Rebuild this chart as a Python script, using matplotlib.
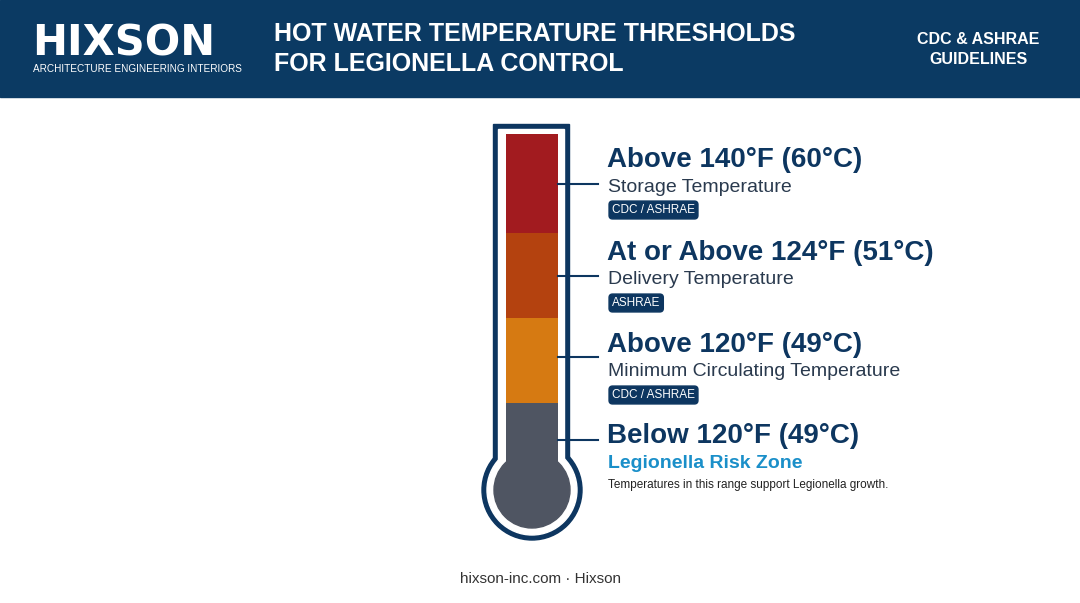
import matplotlib
matplotlib.use("Agg")
import matplotlib.pyplot as plt
from matplotlib.patches import Rectangle, Circle, FancyBboxPatch

headings = ["Above 140°F (60°C)", "At or Above 124°F (51°C)", "Above 120°F (49°C)", "Below 120°F (49°C)"]
subtitles = ["Storage Temperature", "Delivery Temperature", "Minimum Circulating Temperature", "Legionella Risk Zone"]
badges = ["CDC / ASHRAE", "ASHRAE", "CDC / ASHRAE", None]
colors = ["#a21b1f", "#b4420f", "#d67a12", "#4f5562"]
NAVY = "#0d3660"

fig = plt.figure(figsize=(10.8, 6.03), dpi=100)
ax = fig.add_axes([0, 0, 1, 1])
ax.set_xlim(0, 1080); ax.set_ylim(603, 0); ax.axis("off")

# header
ax.add_patch(Rectangle((0, 0), 1080, 97, color="#0b3a63"))
ax.text(32, 44, "HIXSON", color="white", fontsize=30, fontweight="black", family="DejaVu Sans", va="center", ha="left")
ax.text(33, 69, "ARCHITECTURE ENGINEERING INTERIORS", color="white", fontsize=7.2, va="center", family="Liberation Sans")
ax.text(274, 34, "HOT WATER TEMPERATURE THRESHOLDS", color="white", fontsize=18, fontweight="bold", va="center", family="Liberation Sans")
ax.text(274, 64, "FOR LEGIONELLA CONTROL", color="white", fontsize=18, fontweight="bold", va="center", family="Liberation Sans")
ax.text(978, 40, "CDC & ASHRAE", color="white", fontsize=11.5, fontweight="bold", va="center", ha="center", family="Liberation Sans")
ax.text(978, 60, "GUIDELINES", color="white", fontsize=11.5, fontweight="bold", va="center", ha="center", family="Liberation Sans")

# thermometer outline
cx, cy = 532, 490
ax.add_patch(Circle((cx, cy), 50, color=NAVY, zorder=1))
ax.add_patch(Rectangle((493, 124), 76, 370, color=NAVY, zorder=1))
ax.add_patch(Circle((cx, cy), 45, color="white", zorder=2))
ax.add_patch(Rectangle((498, 129), 66, 365, color="white", zorder=2))
bounds = [134, 233, 318, 403, 480]
for i, c in enumerate(colors):
    ax.add_patch(Rectangle((506, bounds[i]), 52, bounds[i+1]-bounds[i], color=c, lw=0, zorder=3))
ax.add_patch(Circle((cx, cy), 38, color=colors[-1], zorder=3))

# labels
ys = [160, 253, 345, 436]
ticky = [184, 276, 357, 440]
for i in range(4):
    ax.plot([558, 598], [ticky[i], ticky[i]], color=NAVY, lw=1.5, zorder=4)
    ax.text(607, ys[i], headings[i], color=NAVY, fontsize=20, fontweight="bold", va="center", family="Liberation Sans")
    sc = "#1a8fc9" if i == 3 else "#2a3a4e"
    sw = "bold" if i == 3 else "normal"
    ax.text(608, ys[i] + 27, subtitles[i], color=sc, fontsize=14, fontweight=sw, va="center", family="Liberation Sans")
    if badges[i]:
        t = ax.text(612, ys[i] + 50, badges[i], color="white", fontsize=8.5, va="center", family="Liberation Sans",
                    bbox=dict(boxstyle="round,pad=0.25,rounding_size=0.3", fc=NAVY, ec=NAVY))
ax.text(608, 485, "Temperatures in this range support Legionella growth.", color="#222", fontsize=8.5, va="center", family="Liberation Sans")

ax.text(540, 579, "hixson-inc.com · Hixson", color="#333", fontsize=11, ha="center", va="center", family="Liberation Sans")
fig.savefig("out.png", dpi=100)
